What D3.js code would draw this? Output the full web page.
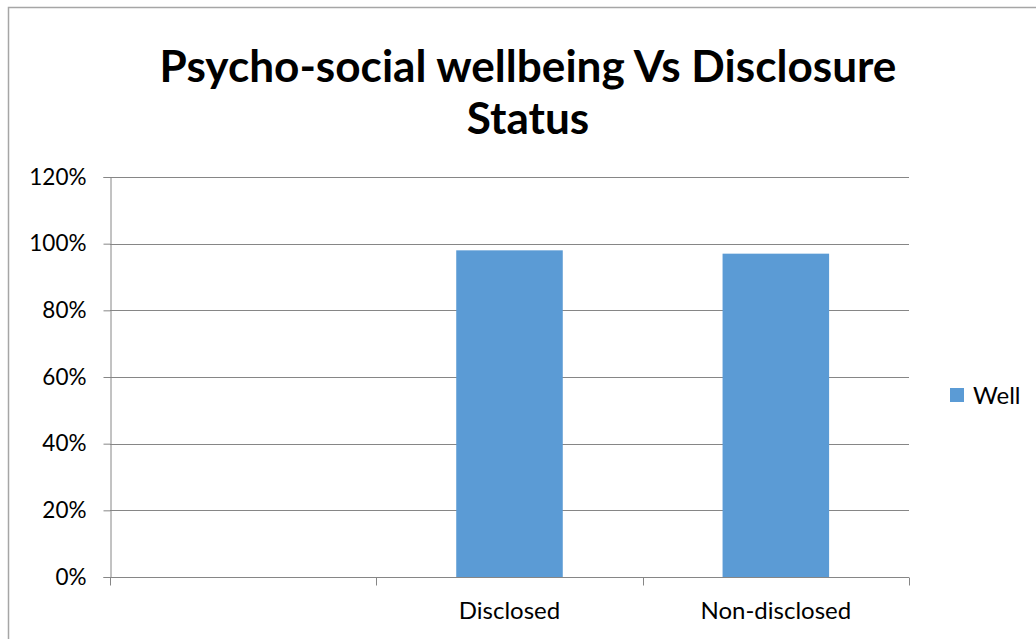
<!DOCTYPE html>
<html><head><meta charset="utf-8">
<script src="https://cdn.jsdelivr.net/npm/d3@7"></script>
<style>body{margin:0;background:#fff}svg{display:block}</style>
</head><body>
<svg id="c" width="1036" height="639"></svg>
<script>
const categories = ["", "Disclosed", "Non-disclosed"];
const wellValues = [null, 0.98, 0.97];
const yTicks = [0, 0.2, 0.4, 0.6, 0.8, 1.0, 1.2];
const seriesName = "Well";
const titleLines = ["Psycho-social wellbeing Vs Disclosure", "Status"];

const svg = d3.select("#c");
const font = "Lato, 'Open Sans', sans-serif";
svg.append("rect").attr("x",8.5).attr("y",7.5).attr("width",1100).attr("height",700)
  .attr("fill","#fff").attr("stroke","#a6a6a6").attr("stroke-width",1.5);

const m = {l:110, r:909, t:177, b:577};
const x = d3.scaleBand().domain(categories.map((d,i)=>i)).range([m.l,m.r]).padding(0);
const y = d3.scaleLinear().domain([0,1.2]).range([m.b,m.t]);

// gridlines
svg.append("g").selectAll("line").data(yTicks.filter(d=>d>0)).join("line")
  .attr("x1",m.l).attr("x2",m.r).attr("y1",d=>Math.round(y(d))+0.5).attr("y2",d=>Math.round(y(d))+0.5)
  .attr("stroke","#868686").attr("stroke-width",1);

// bars
const bw = x.bandwidth()*0.4;
svg.append("g").selectAll("rect").data(wellValues.map((v,i)=>({v,i})).filter(d=>d.v!=null)).join("rect")
  .attr("x",d=>x(d.i)+(x.bandwidth()-bw)/2).attr("width",bw)
  .attr("y",d=>y(d.v)).attr("height",d=>y(0)-y(d.v))
  .attr("fill","#5b9bd5");

// y axis
const ya = svg.append("g").attr("transform",`translate(${m.l+0.5},0)`)
  .call(d3.axisLeft(y).tickValues(yTicks).tickFormat(d3.format(".0%")).tickSize(7).tickPadding(17));
ya.select(".domain").attr("stroke","#868686");
ya.selectAll(".tick line").attr("stroke","#868686");
ya.selectAll("text").attr("font-family",font).attr("font-size",22.5).attr("fill","#000");

// x axis
const xa = svg.append("g").attr("transform",`translate(0,${m.b+0.5})`);
xa.append("line").attr("x1",m.l).attr("x2",m.r).attr("stroke","#868686");
const bounds = categories.map((d,i)=>x(i)).concat([x(categories.length-1)+x.bandwidth()]);
xa.selectAll("line.t").data(bounds).join("line").attr("class","t")
  .attr("x1",d=>Math.round(d)+0.5).attr("x2",d=>Math.round(d)+0.5).attr("y1",0).attr("y2",8).attr("stroke","#868686");
xa.selectAll("text").data(categories).join("text")
  .attr("x",(d,i)=>x(i)+x.bandwidth()/2).attr("y",41).attr("text-anchor","middle")
  .attr("font-family",font).attr("font-size",24).attr("fill","#000").text(d=>d);

// title
const tt = svg.append("g");
titleLines.forEach((t,i)=>{
  tt.append("text").attr("x",528).attr("y",82+i*52).attr("text-anchor","middle")
    .attr("font-family",font).attr("font-weight","bold").attr("font-size",40).attr("fill","#000").text(t);
});
const w0 = tt.select("text").node().getComputedTextLength();
const fs = 40*737/w0;
tt.selectAll("text").attr("font-size",fs);

// legend
const lg = svg.append("g");
lg.append("rect").attr("x",950).attr("y",388).attr("width",14).attr("height",14).attr("fill","#5b9bd5");
lg.append("text").attr("x",973).attr("y",404).attr("font-family",font).attr("font-size",24).attr("fill","#000").text(seriesName);
</script>
</body></html>
